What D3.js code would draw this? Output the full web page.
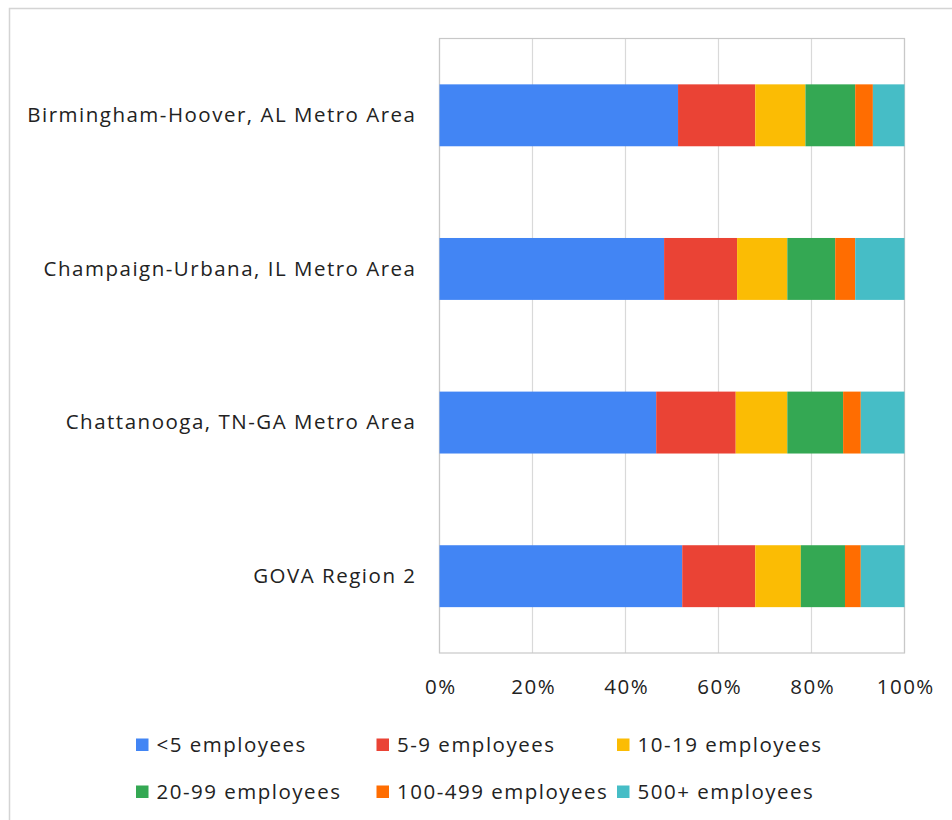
<!DOCTYPE html>
<html>
<head>
<meta charset="utf-8">
<script src="https://cdn.jsdelivr.net/npm/d3@7"></script>
<style>
  body { margin: 0; background: #fff; }
  text { font-family: "Open Sans", sans-serif; fill: #222; }
</style>
</head>
<body>
<div id="viz_area"></div>
<script>
// regions (top to bottom)
var categories = ["Birmingham-Hoover, AL Metro Area", "Champaign-Urbana, IL Metro Area",
                  "Chattanooga, TN-GA Metro Area", "GOVA Region 2"];
// size classes, in stacking order
var seriesNames = ["<5 employees", "5-9 employees", "10-19 employees",
                   "20-99 employees", "100-499 employees", "500+ employees"];
var seriesColors = ["#4285f4", "#ea4335", "#fbbc04", "#34a853", "#ff6d01", "#46bdc6"];
// share of establishments (%), one value per region
var under5   = [51.3, 48.3, 46.6, 52.2];
var emp5_9   = [16.6, 15.7, 17.1, 15.7];
var emp10_19 = [10.8, 10.8, 11.1, 9.8];
var emp20_99 = [10.7, 10.3, 12.0, 9.5];
var emp100_499 = [3.8, 4.3, 3.8, 3.4];
var emp500   = [6.8, 10.6, 9.4, 9.4];
var tickValues = [0, 0.2, 0.4, 0.6, 0.8, 1];

function __init__() {
    barChart();
}

function barChart() {
    var w = 952;
    var h = 820;
    var seriesValues = [under5, emp5_9, emp10_19, emp20_99, emp100_499, emp500];

    // rows for d3.stack
    var rows = categories.map(function(c, i) {
        var r = { region: c };
        seriesNames.forEach(function(s, j) { r[s] = seriesValues[j][i]; });
        return r;
    });

    var stacked = d3.stack()
                    .keys(seriesNames)
                    .offset(d3.stackOffsetExpand)(rows);

    var xScale = d3.scaleLinear()
                   .domain([0, 1])
                   .range([439.5, 904.5]);

    var yScale = d3.scaleBand()
                   .domain(categories)
                   .range([38.5, 653])
                   .paddingInner(0.597)
                   .paddingOuter(0.2985);

    var color = d3.scaleOrdinal()
                  .domain(seriesNames)
                  .range(seriesColors);

    var svg = d3.select("#viz_area")
                .append("svg")
                .attr("width", w)
                .attr("height", h);

    // outer chart frame (only top and left edges show)
    svg.append("path")
       .attr("d", "M9.5," + h + "V8.5H" + w)
       .attr("fill", "none")
       .attr("stroke", "#d4d4d4")
       .attr("stroke-width", 1.5);

    // vertical gridlines
    svg.append("g")
       .selectAll("line")
       .data(tickValues)
       .enter()
       .append("line")
       .attr("x1", (d) => xScale(d))
       .attr("x2", (d) => xScale(d))
       .attr("y1", 38.5)
       .attr("y2", 653)
       .attr("stroke", "#d9d9d9")
       .attr("stroke-width", 1.2);

    // plot border
    svg.append("rect")
       .attr("x", xScale(0))
       .attr("y", 38.5)
       .attr("width", xScale(1) - xScale(0))
       .attr("height", 653 - 38.5)
       .attr("fill", "none")
       .attr("stroke", "#c8c8c8")
       .attr("stroke-width", 1.2);

    // stacked bars
    svg.append("g")
       .selectAll("g")
       .data(stacked)
       .enter()
       .append("g")
       .attr("fill", (d) => color(d.key))
       .selectAll("rect")
       .data((d) => d)
       .enter()
       .append("rect")
       .attr("x", (d) => xScale(d[0]))
       .attr("y", (d) => yScale(d.data.region))
       .attr("width", (d) => xScale(d[1]) - xScale(d[0]))
       .attr("height", yScale.bandwidth());

    // category labels (letter-spacing adds a trailing gap, so shift right a bit)
    var yAxis = svg.append("g")
       .attr("transform", "translate(416.5,0)")
       .call(d3.axisLeft(yScale).tickSize(0).tickPadding(0));
    yAxis.select(".domain").remove();
    yAxis.selectAll("text")
         .style("font-size", "20.5px")
         .style("letter-spacing", "1.5px")
         .style("font-family", "'Open Sans', sans-serif")
         .attr("fill", "#222");

    // percent labels
    var xAxis = svg.append("g")
       .attr("transform", "translate(0.75,653)")
       .call(d3.axisBottom(xScale)
               .tickValues(tickValues)
               .tickFormat(d3.format(".0%"))
               .tickSize(0)
               .tickPadding(34));
    xAxis.select(".domain").remove();
    xAxis.selectAll("text")
         .attr("dy", "0.35em")
         .style("font-size", "20.5px")
         .style("letter-spacing", "1.5px")
         .style("font-family", "'Open Sans', sans-serif")
         .attr("fill", "#222");

    // legend, 3 per row
    var legend = svg.append("g")
                    .selectAll("g")
                    .data(seriesNames)
                    .enter()
                    .append("g")
                    .attr("transform", function(d, i) {
                        return "translate(" + (136 + (i % 3) * 240.5) + "," + (745 + Math.floor(i / 3) * 47) + ")";
                    });
    legend.append("rect")
          .attr("x", 0)
          .attr("y", -6.5)
          .attr("width", 12.5)
          .attr("height", 12.5)
          .attr("fill", (d) => color(d));
    legend.append("text")
          .attr("x", 20.5)
          .attr("dy", "0.35em")
          .style("font-size", "20.5px")
          .style("letter-spacing", "1.5px")
          .text((d) => d);
}

window.onload = __init__;
</script>
</body>
</html>
